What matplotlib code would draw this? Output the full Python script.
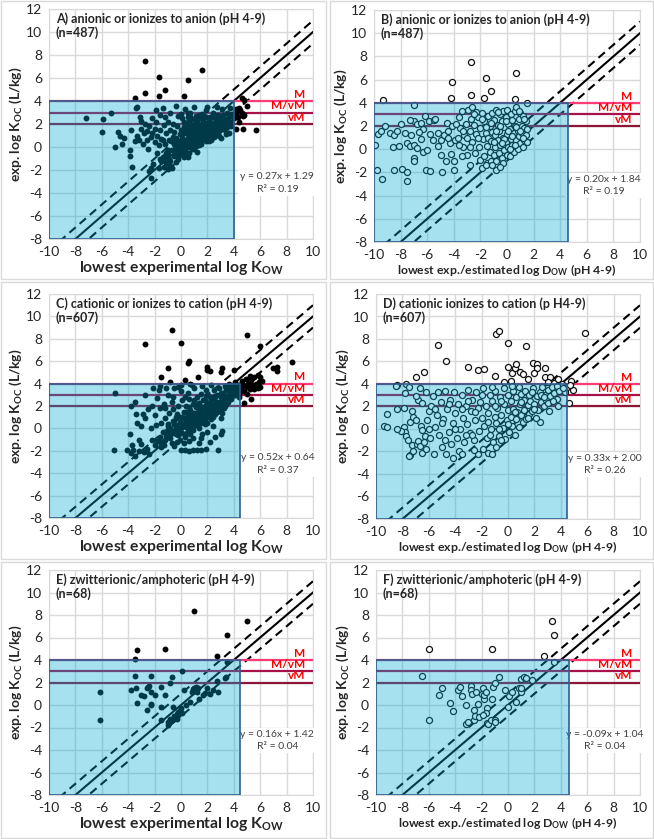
import numpy as np
import matplotlib
matplotlib.use('Agg')
import matplotlib.pyplot as plt
from matplotlib.patches import Rectangle

plt.rcParams['font.family'] = ['Lato', 'DejaVu Sans']
plt.rcParams['mathtext.fontset'] = 'custom'
plt.rcParams['mathtext.rm'] = 'Lato:bold'
plt.rcParams['mathtext.default'] = 'rm'
plt.rcParams['axes.unicode_minus'] = False

# ---- data ----
titles = ['A) anionic or ionizes to anion (pH 4-9)\n(n=487)',
          'B) anionic or ionizes to anion (pH 4-9)\n(n=487)',
          'C) cationic or ionizes to cation (pH 4-9)\n(n=607)',
          'D) cationic ionizes to cation (p H4-9)\n(n=607)',
          'E) zwitterionic/amphoteric (pH 4-9)\n(n=68)',
          'F) zwitterionic/amphoteric (pH 4-9)\n(n=68)']
xlabels = ['lowest experimental log K$_{OW}$',
           'lowest exp./estimated log D$_{OW}$ (pH 4-9)'] * 3
fits = ['y = 0.27x + 1.29\nR² = 0.19', 'y = 0.20x + 1.84\nR² = 0.19',
        'y = 0.52x + 0.64\nR² = 0.37', 'y = 0.33x + 2.00\nR² = 0.26',
        'y = 0.16x + 1.42\nR² = 0.04', 'y = -0.09x + 1.04\nR² = 0.04']
box_right = [4.0, 4.6, 4.5, 4.5, 4.5, 4.6]
thresholds = [4, 3, 2]
threshold_labels = ['M', 'M/vM', 'vM']
threshold_colors = ['#FF3C78', '#A8124A', '#8E1538']
diag_x = np.array([-10, 10])
diag_offsets = [0, 1, -1]

pts_a = np.array([
    (-2.7, 7.5), (1.6, 6.7), (-1.7, 6.1), (0.5, 5.8), (-1.2, 5.0), (-2.7, 4.7), (-3.5, 4.3),
    (-1.7, 4.4), (0.2, 4.4), (-7.2, 2.5), (-5.9, 2.4), (-5.3, 3.0), (-6.0, 1.3), (-5.0, 0.0),
    (-4.8, 1.3), (-4.6, 1.0), (-4.3, 0.8), (-4.5, 0.3), (-3.9, -0.8), (-3.9, -0.3), (-3.7, -1.7),
    (-2.3, -2.7), (-3.8, 1.5), (-3.5, 0.5), (-3.3, 1.0), (-3.2, 0.6), (-3.4, 3.4), (-3.3, 3.5),
    (-3.1, 2.6), (-3.0, 1.6), (-3.0, 2.3),
    (4.2, 3.3), (4.3, 3.1), (4.4, 3.4), (4.5, 3.2), (4.2, 2.9), (4.6, 3.0), (4.3, 2.6), (4.4, 2.2),
    (4.7, 2.7), (4.8, 2.8), (4.6, 4.3), (4.8, 4.1), (5.0, 3.6), (4.2, 1.6), (4.7, 1.6), (5.7, 1.5),
    (4.0, 2.5),
    (-2.9, 0.3), (-2.8, 1.2), (-2.7, 2.0), (-2.6, 1.4), (-2.6, 0.6), (-2.5, -0.2), (-2.4, 1.8),
    (-2.3, 0.9), (-2.2, 2.5), (-2.2, 1.2), (-2.1, -1.5), (-2.0, 0.4), (-2.0, 1.6), (-1.9, 3.2),
    (-1.9, 2.2), (-1.8, -0.5), (-1.8, 1.0), (-1.7, -1.8), (-1.7, 0.2), (-1.6, 1.5), (-1.6, 2.8),
    (-1.5, -1.2), (-1.5, 0.7), (-1.4, 3.4), (-1.4, -0.9), (-1.3, 1.9), (-1.3, -1.7), (-1.2, 0.3),
    (-1.2, 2.6), (-1.1, -1.4), (-1.1, 1.2), (-1.0, -0.6), (-1.0, 2.2), (-0.9, 0.6), (-0.9, -1.0),
    (-0.8, 3.0), (-0.8, 1.5), (-0.7, -0.3), (-0.7, -1.8), (-0.6, 0.9), (-0.6, 2.0), (-0.5, -0.8),
    (-0.5, 1.3), (-0.4, 3.6), (-0.4, 0.1), (-0.3, -0.5), (-0.3, 1.8), (-0.2, 0.5), (-0.2, 2.7),
    (-0.1, -0.2), (-0.1, 1.1), (-0.8, -1.2), (-1.6, -1.0), (-2.3, -1.8), (-2.4, -2.1), (-1.0, -1.9),
    (-0.9, -1.5), (-1.2, -0.8),
    (0.0, 0.3), (0.0, 1.5), (0.0, 2.9), (0.1, -0.6), (0.1, 0.8), (0.2, 2.2), (0.2, 0.0), (0.3, 1.2),
    (0.3, 3.3), (0.3, -0.3), (0.4, 0.6), (0.4, 1.8), (0.5, 0.2), (0.5, 2.6), (0.5, -0.9), (0.6, 1.0),
    (0.6, 1.5), (0.7, 0.4), (0.7, 3.0), (0.7, 2.0), (0.8, 0.8), (0.8, -0.2), (0.9, 1.3), (0.9, 2.4),
    (1.0, 0.5), (1.0, 1.7), (1.0, 3.5), (1.1, 0.9), (1.1, 0.1), (1.2, 1.2), (1.2, 2.1), (1.3, 0.7),
    (1.3, 1.6), (1.4, 2.8), (1.4, 0.3), (1.5, 1.0), (1.5, 1.9), (1.6, 1.4), (1.6, 0.6), (1.7, 2.3),
    (1.7, 1.1), (1.8, 0.9), (1.8, 1.7), (1.9, 3.2), (1.9, 1.3), (2.0, 0.8), (2.0, 2.0), (0.2, 1.7),
    (0.6, 0.0), (0.9, 0.1), (1.2, -0.4), (0.4, -0.7), (0.8, 1.9), (1.5, 2.5), (0.1, 2.5), (0.5, 3.0),
    (1.1, 2.7),
    (2.1, 1.5), (2.2, 2.6), (2.2, 1.1), (2.3, 1.8), (2.4, 1.3), (2.4, 3.0), (2.5, 2.1), (2.6, 1.6),
    (2.6, 2.5), (2.7, 1.9), (2.8, 1.2), (2.8, 2.8), (2.9, 2.2), (3.0, 1.7), (3.0, 2.5), (3.1, 3.3),
    (3.2, 2.0), (3.2, 2.8), (3.3, 1.5), (3.4, 2.4), (3.5, 3.0), (3.5, 2.0), (3.6, 2.6), (3.7, 3.4),
    (3.8, 2.2), (3.9, 2.9), (2.3, 0.6), (2.5, 0.9), (3.0, 0.8), (3.6, 1.2), (2.0, 3.5), (2.7, 3.5),
    (0.1, 1.1), (0.3, 0.5), (0.4, 1.4), (0.6, 2.3), (0.7, 1.2), (0.8, 0.5), (0.9, 1.7), (1.0, 1.0),
    (1.1, 1.4), (1.2, 0.6), (1.3, 2.4), (1.4, 1.8), (1.5, 0.3), (1.6, 2.0), (1.7, 0.8), (1.8, 1.3),
    (1.9, 2.6), (2.0, 1.2), (2.1, 2.3), (2.2, 0.8), (2.3, 1.4), (2.4, 2.0), (2.5, 1.5), (2.6, 1.1),
    (2.7, 2.3), (2.8, 1.6), (2.9, 1.0), (3.0, 2.0), (3.1, 2.4), (3.3, 1.9), (3.4, 1.1), (3.6, 2.0),
    (3.7, 2.8), (3.8, 1.8), (0.3, 2.0), (0.5, 0.8), (0.2, -0.9), (0.0, -0.4), (-0.2, -1.0),
    (-0.4, -1.3), (0.6, -0.5), (1.0, -0.2), (1.3, 1.1), (1.9, 0.5), (2.2, 1.7), (2.5, 2.8),
    (1.1, 2.2), (0.7, 2.6), (1.6, 2.9), (2.9, 2.6),
    (0.05, 0.7), (0.25, 1.45), (0.45, 0.35), (0.55, 1.85), (0.65, 0.75), (0.85, 1.05), (0.95, 0.35),
    (1.05, 2.0), (1.15, 0.65), (1.25, 1.45), (1.35, 0.2), (1.45, 1.55), (1.55, 0.75), (1.65, 1.7),
    (1.75, 1.35), (1.85, 2.1), (1.95, 0.95), (2.05, 1.7), (2.15, 0.5), (2.25, 2.0), (2.35, 1.2),
    (2.45, 1.75), (2.55, 1.25), (2.65, 2.1), (2.75, 1.4), (2.85, 1.9), (2.95, 1.5), (3.05, 2.3),
    (3.15, 1.8), (3.25, 2.2), (3.45, 1.7), (3.55, 2.3), (3.75, 2.0), (-0.15, 0.25), (-0.35, 0.8),
    (-0.55, 0.3), (-0.75, 0.5), (-0.95, -0.3), (-1.15, -0.5), (-1.35, 0.6), (-0.25, -0.8),
    (-0.45, -0.2),
])

pts_b = np.array([
    (-2.7, 7.5), (0.7, 6.6), (-1.6, 6.1), (-4.1, 5.8), (-1.2, 5.0), (-2.7, 4.7), (-4.2, 4.4),
    (-1.7, 4.4), (0.6, 4.3), (1.5, 4.0), (-9.3, 4.2), (-7.0, 3.8),
    (-9.9, 0.4), (-9.8, -1.8), (-9.4, -2.6), (-9.7, 1.3), (-9.5, 1.6), (-9.2, 2.0), (-8.8, 1.4),
    (-8.6, 0.2), (-8.5, 1.2), (-8.3, 1.6), (-8.1, 0.3), (-8.5, -1.8), (-7.9, -1.7), (-7.5, -2.0),
    (-7.5, -2.7), (-7.7, 1.4), (-7.2, 1.2), (-7.0, 2.4), (-6.8, 2.2), (-6.5, 2.3), (-6.3, 1.7),
    (-6.2, 2.9), (-5.9, 2.4), (-6.6, 1.5), (-7.3, 2.5), (-7.5, 0.5), (-7.3, 0.3), (-7.0, 0.4),
    (-6.8, 0.1), (-7.0, -0.8), (-7.0, -1.0), (-6.3, -0.2), (-6.0, -0.1), (-6.1, -1.8), (-5.8, -1.9),
    (-5.6, 0.8), (-5.8, 1.3), (-5.5, 2.5), (-5.4, 2.6), (-5.2, 1.4), (-5.0, 0.8), (-5.0, -0.5),
    (-4.9, -2.0), (-4.5, 2.3), (-4.7, 1.2), (-4.4, 1.6), (-4.3, 0.5), (-4.2, -0.4), (-4.1, 2.0),
    (-4.0, -1.0), (-3.9, 0.8), (-4.0, -1.8), (-3.7, 1.0), (-3.5, 1.8), (-3.4, 3.3), (-3.3, 0.2),
    (-3.2, 1.2), (-3.1, 2.2), (-3.0, -0.5), (-2.9, 3.4), (-2.8, -1.4), (-2.8, 1.6), (-2.6, 3.6),
    (-2.6, 0.6), (-2.5, 2.1), (-2.4, -0.3), (-2.3, 1.3), (-2.2, 2.8), (-2.1, 0.2), (-2.0, 1.8),
    (-2.0, -0.9), (-1.9, 3.1), (-1.8, 0.9), (-1.7, 2.4), (-1.7, -0.6), (-1.6, 1.4), (-1.5, -1.2),
    (-1.5, 0.3), (-1.4, 2.9), (-1.4, 1.0), (-1.3, -0.2), (-1.3, 2.0), (-1.2, -1.0), (-1.2, 0.7),
    (-1.1, 3.1), (-1.1, 1.5), (-1.0, -0.5), (-1.0, 2.5), (-0.9, 0.2), (-0.9, 1.2), (-0.8, -1.8),
    (-0.8, 3.4), (-0.8, -1.0), (-0.7, 0.8), (-0.7, 2.1), (-0.6, -0.3), (-0.6, 1.6), (-0.5, 3.0),
    (-0.5, 0.4), (-0.4, -0.8), (-0.4, 2.4), (-0.3, 1.0), (-0.3, 3.3), (-0.2, -0.1), (-0.2, 1.9),
    (-0.1, 0.6), (-0.1, 2.8), (0.0, -0.5), (0.0, 1.3), (0.0, 3.4), (0.1, 0.2), (0.1, 2.2),
    (0.2, 1.7), (0.2, -0.6), (0.3, 0.9), (0.3, 3.0), (0.4, 2.5), (0.4, 0.4), (0.5, 1.4), (0.5, -0.2),
    (0.6, 3.3), (0.6, 2.0), (0.7, 0.8), (0.7, 3.6), (0.8, 1.6), (0.8, 0.0), (0.9, 2.6), (0.9, 1.1),
    (1.0, 3.1), (1.0, 0.5), (1.1, 2.0), (1.1, 1.4), (1.2, 0.2), (1.2, 2.9), (1.3, 1.8), (1.3, 0.8),
    (1.4, 2.4), (1.4, 1.2), (1.5, 1.7), (1.5, 0.6), (-3.8, 2.2), (-3.6, 0.4), (-3.0, 1.0),
    (-2.7, 2.6), (-2.3, 3.2), (-1.9, -1.6), (-1.6, -1.4), (-1.1, -1.4), (-0.3, -1.2), (-0.5, -1.5),
    (-0.2, 0.9), (0.1, 1.6), (0.4, 1.1), (0.7, 1.9), (1.0, 1.6), (1.2, 1.0), (-0.5, 2.0), (-0.8, 1.6),
    (-1.2, 2.3), (-1.6, 1.9), (-2.2, 1.0), (-2.8, 0.2), (-3.3, 1.6), (-3.6, 2.8), (-1.0, 0.6),
    (-0.4, 0.5), (0.2, 0.0), (0.6, 0.4), (1.3, 2.6), (0.9, 3.3), (-0.1, 2.4), (-0.7, 3.2),
    (-1.9, 2.6), (-2.5, 3.0), (-4.4, 1.0), (-5.2, 0.3), (-6.5, 0.9), (-8.0, 2.2), (-4.6, -1.0),
    (-3.4, -0.6),
])

pts_c = np.array([
    (-0.7, 8.8), (0.0, 7.6), (-2.7, 7.5), (5.0, 8.3), (6.0, 7.4), (0.6, 6.0), (0.5, 5.8), (-1.0, 5.4),
    (2.0, 5.5), (2.0, 5.2), (2.2, 5.1), (3.1, 5.4), (4.0, 5.2), (3.0, 5.0), (1.3, 4.6), (-1.5, 4.6),
    (-0.8, 4.1), (0.3, 4.3), (0.7, 4.0), (5.8, 4.8), (6.0, 4.6), (7.0, 5.4), (7.3, 5.5), (7.3, 5.1),
    (8.4, 5.9), (6.1, 4.2), (5.5, 3.5), (5.3, 2.6), (4.8, 2.3), (4.4, 2.8), (-5.0, 3.2), (-3.5, 2.4),
    (-3.8, 2.0),
    (4.1, 4.1), (4.3, 3.8), (4.5, 3.6), (4.6, 4.2), (4.7, 3.9), (4.8, 3.3), (4.9, 4.4), (5.0, 3.7),
    (5.1, 4.0), (5.2, 3.5), (5.3, 4.3), (5.4, 3.9), (5.5, 4.6), (5.6, 3.8), (5.7, 4.0), (5.8, 3.6),
    (4.4, 3.2), (4.6, 3.4), (5.0, 3.1), (5.2, 4.7), (4.2, 3.5), (5.9, 4.1), (6.0, 3.7), (5.4, 4.5),
    (-5.1, -1.9), (-4.1, -1.9), (-3.8, -2.2), (-3.6, -1.9), (-3.2, -2.0), (-2.8, -2.1), (-2.6, -1.8),
    (-2.4, -2.3), (-3.5, -2.5), (-3.0, -1.4), (-3.2, -1.0), (-3.7, -1.5), (-3.9, -0.5), (-3.4, 1.3),
    (-3.3, 0.5), (-3.0, 0.2), (-2.7, 0.9), (-2.5, 1.7), (-2.3, 0.0), (-2.2, -1.0), (-2.0, 1.2),
    (-1.8, 2.7), (-1.7, 3.4), (-1.6, 3.8), (-1.5, 0.5), (-1.3, -1.5), (-1.2, 1.8), (-1.0, 3.0),
    (-0.8, -0.6), (-0.7, 2.4), (-0.5, 3.6), (-0.4, 1.0), (-0.3, -1.2), (-0.2, 2.0), (0.0, 3.9),
    (0.0, -1.9), (0.3, -1.9), (0.6, -2.0), (0.9, -1.9), (1.2, -1.9), (1.5, -1.9), (1.9, -1.8),
    (2.8, -1.9), (1.4, -1.3), (2.2, -1.2), (3.1, -0.2), (2.6, -0.8), (3.0, -0.5),
    (-2.0, -1.5), (-1.8, -1.1), (-1.6, -0.8), (-1.4, -0.3), (-1.2, -1.0), (-1.0, -0.5), (-1.0, 0.4),
    (-0.8, 0.0), (-0.7, -1.3), (-0.6, 0.7), (-0.5, -0.3), (-0.4, 0.3), (-0.3, 1.3), (-0.2, -0.6),
    (-0.1, 0.6), (0.0, 0.0), (0.0, 1.0), (0.1, -0.4), (0.1, 2.5), (0.2, 0.4), (0.2, 1.5), (0.3, -0.8),
    (0.3, 0.9), (0.4, 0.1), (0.4, 2.0), (0.5, -0.2), (0.5, 1.2), (0.5, 3.2), (0.6, 0.6), (0.6, 2.6),
    (0.7, -0.5), (0.7, 1.6), (0.8, 0.2), (0.8, 1.0), (0.9, 2.2), (0.9, -0.1), (1.0, 0.7), (1.0, 1.4),
    (1.0, 3.6), (1.1, 0.3), (1.1, 1.9), (1.2, 1.0), (1.2, 2.8), (1.3, 0.5), (1.3, 1.5), (1.4, 2.3),
    (1.4, 0.0), (1.5, 1.2), (1.5, 3.1), (1.6, 0.8), (1.6, 1.8), (1.7, 2.5), (1.7, 1.4), (1.8, 0.4),
    (1.8, 2.0), (1.9, 1.1), (1.9, 3.4), (2.0, 1.6), (2.0, 2.3), (2.0, 0.5), (2.1, 1.9), (2.2, 1.2),
    (2.2, 2.8), (2.3, 0.8), (2.3, 2.2), (2.4, 1.6), (2.5, 2.6), (2.5, 3.4), (2.6, 1.3), (2.6, 2.0),
    (2.7, 3.0), (2.8, 2.4), (2.8, 1.7), (2.9, 3.6), (3.0, 2.1), (3.0, 2.8), (3.1, 1.4), (3.2, 3.2),
    (3.2, 2.5), (3.3, 3.8), (3.4, 2.9), (3.4, 2.2), (3.5, 3.4), (3.6, 3.0), (3.7, 3.7), (3.8, 2.6),
    (3.9, 3.3), (4.0, 3.9), (4.1, 3.0), (4.3, 3.4), (4.4, 3.9), (3.6, 4.0), (3.0, 0.9), (2.4, 0.2),
    (1.6, -0.5), (0.9, -0.9), (0.2, -1.3), (-0.5, -1.6), (-1.5, -1.7), (-0.9, 1.4), (-1.3, 2.2),
    (-0.6, 2.8), (0.0, 3.3), (0.8, 3.9), (-2.2, 2.0), (-2.7, 3.0), (-2.9, 1.3), (-1.9, 0.3),
    (-0.2, 3.7), (1.6, 3.8), (2.3, 3.9), (-1.1, 3.6), (-2.1, 3.6),
    (0.5, 0.4), (0.7, 1.1), (0.9, 0.5), (1.1, 1.2), (1.3, 0.9), (1.5, 1.6), (1.7, 0.6), (1.9, 1.9),
    (2.1, 1.4), (2.3, 1.1), (2.5, 2.0), (2.7, 1.5), (2.9, 2.2), (3.1, 2.7), (3.3, 2.4), (3.5, 2.7),
    (3.7, 3.2), (3.9, 2.9), (4.2, 3.9), (4.0, 3.4), (0.0, 0.5), (-0.2, 0.0), (-0.4, -0.5),
    (-0.6, -0.2), (-0.8, -0.9), (0.2, 0.9), (0.4, 1.5), (0.6, 1.9), (0.8, 1.4), (1.2, 2.0),
    (1.4, 1.7), (1.8, 2.5), (2.2, 2.4), (2.6, 2.9), (3.0, 3.2), (3.4, 3.5), (3.8, 3.6), (2.0, 3.0),
    (1.0, 2.5), (-1.5, -1.2), (-1.1, -0.3), (-0.9, -0.1), (1.5, -0.9), (2.0, -0.3), (0.6, -1.1),
    (-0.1, -1.0), (-1.2, 0.9), (-1.6, 1.8), (-0.6, 1.7), (0.3, 2.8),
    (0.15, 0.2), (0.35, 0.6), (0.55, 0.9), (0.75, 0.3), (0.95, 1.2), (1.15, 0.8), (1.35, 1.2),
    (1.55, 0.5), (1.75, 1.1), (1.95, 1.5), (2.15, 1.0), (2.35, 1.7), (2.55, 1.4), (2.75, 1.9),
    (2.95, 1.6), (3.15, 2.2), (3.35, 2.0), (3.55, 2.4), (3.75, 2.8), (3.95, 3.6), (4.15, 3.3),
    (4.35, 3.6), (-0.15, -0.3), (-0.35, 0.1), (-0.55, 0.4), (-0.75, -0.4), (-0.95, 0.2),
    (-1.15, -0.7), (-1.35, -1.2), (-1.55, -1.4), (0.45, -0.4), (0.65, 0.0), (1.25, 0.3), (1.85, 0.8),
    (2.45, 1.0), (3.25, 1.8), (2.65, 2.4), (1.45, 2.0),
])

pts_d = np.array([
    (-0.9, 8.4), (-0.7, 8.7), (0.0, 7.6), (1.4, 7.4), (-5.3, 7.5), (5.8, 8.5), (-4.7, 6.0),
    (-6.4, 5.1), (-7.0, 4.6), (-3.0, 5.5), (-2.3, 5.2), (-1.8, 5.3), (-1.0, 4.7), (0.0, 5.5),
    (0.3, 5.0), (0.5, 5.4), (0.6, 5.8), (0.9, 5.1), (1.1, 4.9), (1.9, 5.9), (2.2, 5.8), (2.2, 5.4),
    (2.0, 5.0), (2.8, 5.4), (2.8, 4.6), (3.2, 4.6), (3.5, 4.1), (3.8, 4.4), (4.1, 4.0), (0.2, 4.3),
    (-0.3, 4.2), (1.5, 4.4), (3.0, 4.2), (4.8, 4.3), (4.9, 3.5), (4.5, 3.7), (4.7, 3.9), (4.3, 3.3),
    (4.6, 2.3), (3.8, 2.0), (2.4, 0.6), (3.7, 2.7),
    (-9.4, 0.3), (-9.2, 0.2), (-9.2, 1.3), (-8.4, 1.8), (-8.4, 3.9), (-8.5, 3.8), (-7.8, 3.2),
    (-7.7, 4.0), (-7.5, 3.7), (-7.9, 0.2), (-7.8, -0.3), (-7.7, -0.6), (-7.6, -1.0), (-7.4, -2.3),
    (-7.5, -2.4), (-7.2, -2.0), (-7.3, -1.4), (-7.4, 0.6), (-7.3, 1.6), (-7.2, 1.1), (-7.0, 0.8),
    (-6.9, -1.3), (-6.8, -1.1), (-6.7, -1.5), (-6.5, -2.1), (-6.8, 2.6), (-7.0, 2.9), (-6.7, 3.6),
    (-6.5, 2.3), (-6.6, 0.3), (-6.5, -0.1), (-6.3, -0.6), (-6.4, -1.2), (-6.2, -1.8), (-6.1, 0.8),
    (-6.2, 3.3), (-6.0, 1.6), (-5.9, -0.8), (-5.8, 2.0), (-5.7, 2.9), (-5.6, -2.2), (-5.5, 0.2),
    (-5.4, 1.2), (-5.3, 3.3), (-5.2, -0.5), (-5.1, 2.4), (-5.0, -1.6), (-4.9, 0.9), (-4.8, 3.4),
    (-4.7, -2.2), (-4.6, 1.8), (-4.5, -0.3), (-4.4, 2.6), (-4.3, -1.3), (-4.2, 0.5), (-4.1, 3.3),
    (-4.0, 1.4), (-3.9, -0.8), (-3.8, 2.2), (-3.7, -2.0), (-3.6, 0.0), (-3.5, 3.0), (-3.4, 1.0),
    (-3.3, -1.2), (-3.2, 2.0), (-3.1, 0.4), (-3.0, 3.5), (-2.9, -0.4), (-2.8, 1.6), (-2.7, 2.6),
    (-2.6, -1.0), (-2.5, 0.8), (-2.4, 3.3), (-2.3, 1.9), (-2.2, -0.2), (-2.1, 2.4), (-2.0, 1.0),
    (-1.9, -1.8), (-1.9, 3.6), (-1.8, 0.3), (-1.7, 2.0), (-1.6, -0.8), (-1.5, 1.4), (-1.4, 3.0),
    (-1.3, 0.0), (-1.2, 2.5), (-1.1, -1.2), (-1.0, 1.1), (-1.0, 3.4), (-0.9, 0.5), (-0.8, 1.9),
    (-0.7, -0.6), (-0.6, 2.8), (-0.5, 1.2), (-0.4, 0.1), (-0.3, 3.6), (-0.3, 2.2), (-0.2, -0.9),
    (-0.1, 0.8), (0.0, 1.7), (0.0, 3.0), (0.1, -0.3), (0.2, 2.5), (0.2, 1.1), (0.3, 0.3), (0.4, 3.4),
    (0.4, 1.8), (0.5, -0.5), (0.6, 0.9), (0.6, 2.8), (0.7, 1.5), (0.8, 3.7), (0.8, 0.2), (0.9, 2.2),
    (1.0, 1.2), (1.0, 3.1), (1.1, 0.6), (1.2, 2.6), (1.2, 1.7), (1.3, 3.4), (1.4, 0.9), (1.5, 2.1),
    (1.6, 1.3), (1.6, 3.0), (1.7, 2.5), (1.8, 1.6), (1.9, 3.6), (2.0, 2.2), (2.1, 1.0), (2.2, 2.9),
    (2.3, 1.7), (2.4, 3.3), (2.5, 2.4), (2.6, 3.7), (2.7, 2.0), (2.8, 3.0), (2.9, 2.6), (3.0, 3.5),
    (3.2, 2.9), (3.3, 3.7), (3.5, 3.2), (3.7, 3.8), (3.9, 3.4), (4.2, 3.6), (-2.3, -2.2),
    (-2.6, -1.9), (-3.5, -2.2), (-4.2, -2.6), (-1.5, -2.1), (-1.2, -2.2), (-0.9, -1.6), (-0.5, -1.0),
    (-8.1, -0.2), (-8.4, 0.0), (-7.9, 1.9),
    (-1.5, 0.6), (-1.0, 2.0), (-0.5, 2.5), (0.0, 0.4), (0.5, 1.5), (1.0, 2.4), (1.5, 1.0), (2.0, 1.8),
    (2.5, 3.0), (3.0, 2.3), (-2.5, 1.5), (-3.0, 2.5), (-3.5, 1.8), (-4.0, 0.0), (-4.5, 2.2),
    (-5.0, 0.5), (-5.5, 1.8), (-6.0, 0.0), (-2.0, 3.0), (-1.2, 3.7), (0.3, 3.8), (1.8, 3.3),
    (2.7, 2.8), (3.4, 2.5), (3.1, 1.6), (-0.7, 0.0), (-1.4, -0.5), (-2.7, -0.5), (-3.2, -0.5),
    (-4.8, -1.0),
])

pts_e = np.array([
    (1.0, 8.4), (5.0, 7.5), (3.5, 6.2), (-3.3, 4.9), (-1.2, 5.0), (-3.5, 4.1), (2.7, 4.4),
    (-3.5, 2.6), (-2.3, 2.6), (0.1, 3.0), (-0.7, 2.5), (-0.8, 2.0), (-3.8, 1.3), (-3.4, 1.5),
    (-2.6, 1.5), (-2.4, 1.7), (-2.5, 1.6), (-2.3, 1.2), (-3.0, 0.9), (-2.8, 0.8), (-2.0, 0.9),
    (-1.2, 0.9), (-1.5, 1.6), (-3.3, 0.2), (-2.3, 0.1), (-2.3, 0.0), (-2.6, -0.4), (-1.5, -0.2),
    (-6.1, 1.2), (-6.1, -1.3), (-1.0, -1.8), (-0.9, -1.6), (-0.8, -1.5), (-0.7, -1.3), (-0.6, -1.2),
    (-0.5, -1.0), (-0.4, -1.1), (-0.3, -0.8), (-0.2, -0.6), (-0.1, -0.5), (0.0, -0.3), (0.1, -0.7),
    (-0.3, -1.2), (-0.8, -1.2), (-1.0, -1.5), (-0.2, -0.9), (-1.5, -1.3), (0.2, 1.3), (0.7, 0.3),
    (0.9, 1.4), (1.0, 1.5), (1.1, 1.6), (1.2, 1.2), (1.3, 1.5), (1.4, 0.5), (0.8, 1.2), (1.8, 1.1),
    (1.7, 0.9), (2.0, 1.5), (2.2, 1.0), (2.4, 1.3), (2.7, 2.1), (2.8, 1.2), (3.3, 2.4), (3.4, 2.5),
    (3.5, 3.8), (0.4, 0.0), (-0.6, -0.2),
])

pts_f = np.array([
    (-6.0, 5.0), (-1.2, 5.0), (3.3, 7.5), (3.5, 6.2), (2.7, 4.4), (3.5, 3.8), (-6.5, 2.6),
    (-6.0, -1.3), (-5.2, 0.9), (-5.0, 1.5), (-4.4, 0.2), (-4.2, -0.5), (-3.8, 1.3), (-3.6, 1.6),
    (-3.5, 0.8), (-3.2, 0.0), (-3.2, -1.7), (-3.0, -1.5), (-2.8, 1.7), (-2.8, 1.3), (-2.7, 1.0),
    (-2.6, -0.4), (-2.6, -1.3), (-2.5, -1.0), (-2.4, 1.2), (-2.3, 0.1), (-2.2, -1.1), (-2.0, 1.0),
    (-1.9, 1.5), (-1.8, 0.5), (-1.8, 0.9), (-1.7, 1.2), (-1.6, -0.3), (-1.6, -1.6), (-1.5, -1.7),
    (-1.7, -0.7), (-1.3, -1.3), (-1.2, 0.5), (-1.1, 1.6), (-1.0, 2.0), (-1.0, -1.3), (-1.0, -1.5),
    (-0.7, 2.5), (-1.9, -0.9), (-0.2, 1.3), (0.0, -0.2), (0.1, 0.8), (0.3, 1.2), (0.6, 0.3),
    (0.8, 1.5), (1.0, 2.3), (1.0, 1.2), (1.2, 2.5), (1.4, 2.4), (1.8, 2.2), (1.0, 1.5),
])

panel_pts = [pts_a, pts_b, pts_c, pts_d, pts_e, pts_f]
filled = [True, False, True, False, True, False]

# axes positions in pixels (left, top, right, bottom) of a 654x839 image
W, H = 654, 839
ax_px = [(49, 9, 313, 239), (374, 10, 640, 242),
         (49, 294, 313, 518), (376, 294, 640, 519),
         (49, 570, 313, 795), (376, 570, 640, 795)]
panel_px = [(1, 1, 326, 279), (330, 1, 653, 279),
            (1, 282, 326, 559), (330, 282, 653, 559),
            (1, 562, 326, 838), (330, 562, 653, 838)]
xlabel_size = [11.3, 8.8] * 3

fig = plt.figure(figsize=(W / 100, H / 100), dpi=100)

for (l, t, r, b) in panel_px:
    fig.patches.append(Rectangle((l / W, 1 - b / H), (r - l) / W, (b - t) / H,
                                 transform=fig.transFigure, fill=False,
                                 edgecolor='#d9d9d9', lw=1))

for i in range(6):
    l, t, r, b = ax_px[i]
    ax = fig.add_axes([l / W, 1 - b / H, (r - l) / W, (b - t) / H])
    ax.set_xlim(-10, 10)
    ax.set_ylim(-8, 12)
    ax.set_xticks(np.arange(-10, 11, 2))
    ax.set_yticks(np.arange(-8, 13, 2))
    ax.grid(True, color='#d9d9d9', lw=1, zorder=0)
    ax.set_axisbelow(True)
    ax.tick_params(length=0, labelsize=10, pad=5, colors='#262626')
    for s in ax.spines.values():
        s.set_color('#d9d9d9')

    pts = panel_pts[i]
    if filled[i]:
        ax.scatter(pts[:, 0], pts[:, 1], s=18, color='black', lw=0, zorder=3)
    else:
        ax.scatter(pts[:, 0], pts[:, 1], s=19, facecolor='white', edgecolor='#111111',
                   lw=0.9, zorder=3)

    for off in diag_offsets:
        ax.plot(diag_x, diag_x + off, color='black', lw=1.5,
                ls='-' if off == 0 else (0, (4, 2.5)), zorder=2.5)

    for yv, lab, col in zip(thresholds, threshold_labels, threshold_colors):
        ax.plot([-10, 10], [yv, yv], color=col, lw=1.6, zorder=2.6)
        ax.text(9.4, yv + 0.1, lab, color='#FF0000', fontsize=8.5, fontweight='bold',
                ha='right', va='bottom', zorder=6)

    ax.text(7.3, -2.2, fits[i], fontsize=7.5, ha='center', va='top', color='#404040',
            linespacing=1.5, zorder=2.8,
            bbox=dict(facecolor='white', edgecolor='none', pad=1.5))

    # translucent "mobile" box on top of the markers
    ax.add_patch(Rectangle((-10, -8), box_right[i] + 10, 12, facecolor='#00A9D3',
                           alpha=0.35, edgecolor='none', zorder=4))
    ax.add_patch(Rectangle((-10, -8), box_right[i] + 10, 12, fill=False,
                           edgecolor='#2F5F8F', lw=1.2, zorder=5))

    ax.text(0.025, 0.985, titles[i], transform=ax.transAxes, fontsize=9.0,
            fontweight='bold', ha='left', va='top', linespacing=1.1,
            color='#262626', zorder=7)
    ax.set_xlabel(xlabels[i], fontsize=xlabel_size[i], fontweight='bold',
                  color='#262626', labelpad=1)
    ax.set_ylabel('exp. log K$_{OC}$ (L/kg)', fontsize=9.9, fontweight='bold',
                  color='#262626', labelpad=1)

fig.savefig('out.png', dpi=100)
